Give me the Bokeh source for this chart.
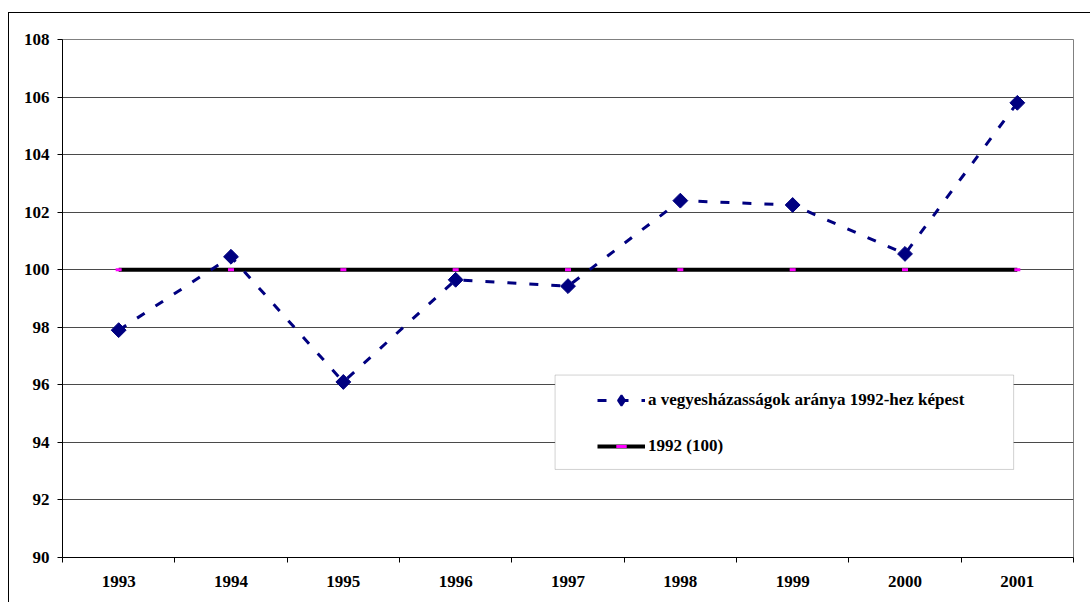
import math
from bokeh.plotting import figure
from bokeh.models import (Range1d, FixedTicker, Legend, LegendItem, BoxAnnotation,
                          ColumnDataSource)
from bokeh.embed import file_html
from bokeh.resources import INLINE

# ---- data ----
years = ["1993", "1994", "1995", "1996", "1997", "1998", "1999", "2000", "2001"]
ratio = [97.9, 100.45, 96.1, 99.65, 99.43, 102.4, 102.25, 100.55, 105.8]
baseline = [100] * len(years)
series_label = "a vegyesházasságok aránya 1992-hez képest"
baseline_label = "1992 (100)"
y_ticks = list(range(90, 109, 2))

# ---- layout constants ----
FONT = "Liberation Serif"
FS = "17px"
NAVY = "#000080"
MAGENTA = "#FF00FF"
GRID = "#4a4a4a"

xc = [i + 0.5 for i in range(len(years))]
src = ColumnDataSource(dict(x=xc, ratio=ratio, base=baseline))

p = figure(width=1082, height=590, output_backend="svg", toolbar_location=None,
           x_range=Range1d(0, len(years)), y_range=Range1d(90, 108),
           min_border_left=53, min_border_right=18, min_border_top=26,
           min_border_bottom=46)
p.styles = {"border-top": "1px solid black", "border-left": "1px solid black",
            "margin-top": "12px", "margin-left": "8px", "box-sizing": "border-box"}
p.outline_line_color = "#808080"
p.outline_line_width = 1
p.background_fill_color = "white"
p.border_fill_color = "white"

# axes
xa = p.xaxis[0]
xa.ticker = FixedTicker(ticks=xc, minor_ticks=list(range(len(years) + 1)))
xa.major_label_overrides = {v: y for v, y in zip(xc, years)}
xa.major_tick_out = 0
xa.major_tick_in = 0
xa.minor_tick_out = 5
xa.minor_tick_in = 0
xa.minor_tick_line_color = "black"
xa.axis_line_color = "black"
xa.major_label_standoff = 13

ya = p.yaxis[0]
ya.ticker = FixedTicker(ticks=y_ticks)
ya.minor_tick_line_color = None
ya.major_tick_out = 5
ya.major_tick_in = 0
ya.major_tick_line_color = "black"
ya.axis_line_color = "black"
ya.major_label_standoff = 8

for ax in (xa, ya):
    ax.major_label_text_font = FONT
    ax.major_label_text_font_size = FS
    ax.major_label_text_font_style = "bold"
    ax.major_label_text_color = "black"

p.xgrid.grid_line_color = None
p.ygrid.ticker = FixedTicker(ticks=y_ticks)
p.ygrid.grid_line_color = GRID
p.ygrid.grid_line_width = 1

# baseline
bl = p.line("x", "base", source=src, line_color="black", line_width=4)
bm = p.scatter("x", "base", source=src, marker="dash", size=6,
               line_color=MAGENTA, line_width=3)

# series
sl = p.line("x", "ratio", source=src, line_color=NAVY, line_width=3,
            line_dash="9 13")
# diamond glyph used for the legend swatch (hidden under the plot markers)
sm_leg = p.scatter("x", "ratio", source=src, marker="diamond", size=1,
                   fill_color=NAVY, line_color=NAVY, line_width=2)
sm = p.scatter("x", "ratio", source=src, marker="square", angle=math.pi / 4,
               size=10.5, fill_color=NAVY, line_color=NAVY)

# legend box (decoration)
box = BoxAnnotation(left=4.385, right=8.467, bottom=93.06, top=96.34,
                    fill_color="white", fill_alpha=1.0,
                    line_color="#666666", line_width=1)
p.add_layout(box)

legend = Legend(items=[LegendItem(label=series_label, renderers=[sl, sm_leg]),
                       LegendItem(label=baseline_label, renderers=[bl, bm])],
                location=(535, 98), padding=0, margin=0, spacing=20,
                glyph_width=48, glyph_height=26, label_height=20,
                label_standoff=3, border_line_color=None,
                background_fill_alpha=0,
                label_text_font=FONT, label_text_font_size=FS,
                label_text_font_style="bold", label_text_color="black")
p.add_layout(legend)

open("out.html", "w").write(file_html(p, INLINE))
